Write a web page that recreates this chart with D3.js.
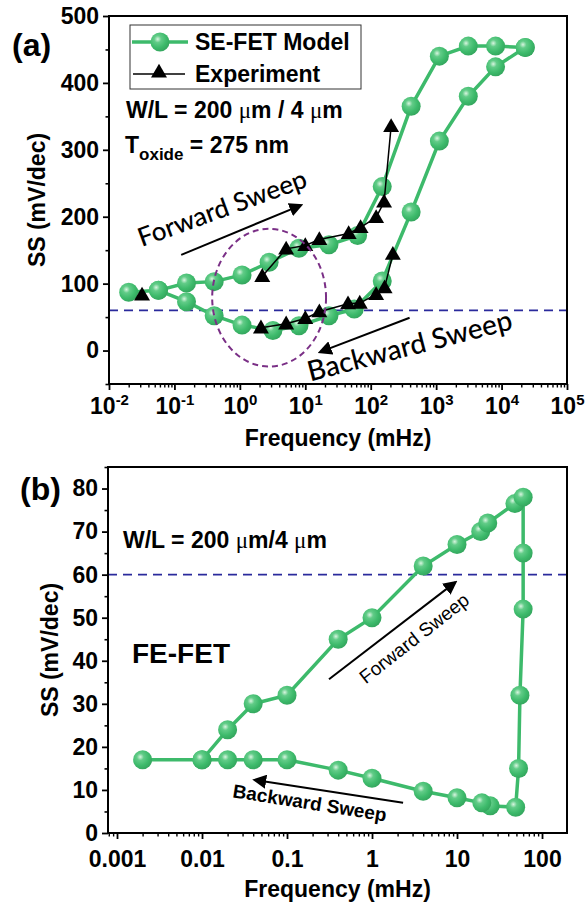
<!DOCTYPE html>
<html><head><meta charset="utf-8">
<script src="https://cdn.jsdelivr.net/npm/d3@7"></script>
<style>body{margin:0;background:#fff} text{font-family:"Liberation Sans",Arial,sans-serif}</style>
</head><body><svg id="c" width="587" height="907"></svg>
<script>
// ---------- Panel (a) data ----------
const aModelFwdF  = [0.02,0.057,0.153,0.405,1.08,2.8,8,23,63,150,415,1120,3100,8100,23000];
const aModelFwdSS = [87,90,101,103,113,132,153,158,172,245,365,440,455,455,453];
const aModelBwdF  = [23000,8100,3100,1120,415,150,56,23,8,3.2,1.08,0.405,0.153,0.057];
const aModelBwdSS = [453,424,380,313,207,104,62,52,37,30,38,52,73,90];
const aExpFwdF  = [2.2,5.1,10,16.4,46,70,121,160,205];
const aExpFwdSS = [111,152,157,166,175,184,199,222,335];
const aExpBwdF  = [218,163,121,68,45,16.4,10,5.1,2.1];
const aExpBwdSS = [144,94,84,71,70,58,48,40,34];
const aExpSingleF = [0.032];
const aExpSingleSS = [83];
const aYTicks = [0,100,200,300,400,500];
const aXTickExp = [-2,-1,0,1,2,3,4,5];
// ---------- Panel (b) data ----------
const bF  = [0.002,0.01,0.02,0.04,0.1,0.4,1,4,10,19,23,48,60,60,60,55,53,49,24.6,19.6,10,4,1,0.4,0.1,0.04,0.02,0.01];
const bSS = [17,17,24,30,32,45,50,62,67,70,72,76.5,78,65,52,32,15,6,6.3,7,8.2,9.7,12.7,14.6,17,17,17,17];
const bYTicks = [0,10,20,30,40,50,60,70,80];
const bXTicks = [0.001,0.01,0.1,1,10,100];
const bXLabels = ["0.001","0.01","0.1","1","10","100"];
const ssLimit = 60;

const GREEN = "#3dba6b", BLUE = "#2a2a9c", PURPLE = "#7a2f86";
const svg = d3.select("#c");
const defs = svg.append("defs");
const rg = defs.append("radialGradient").attr("id","ball").attr("cx","38%").attr("cy","35%").attr("r","65%");
rg.append("stop").attr("offset","0%").attr("stop-color","#d8f5e0");
rg.append("stop").attr("offset","28%").attr("stop-color","#62cc88");
rg.append("stop").attr("offset","70%").attr("stop-color",GREEN);
rg.append("stop").attr("offset","100%").attr("stop-color","#35a85f");
defs.append("marker").attr("id","arr").attr("viewBox","0 0 10 10").attr("refX",8).attr("refY",5)
  .attr("markerWidth",14).attr("markerHeight",14).attr("orient","auto-start-reverse").attr("markerUnits","userSpaceOnUse")
  .append("path").attr("d","M0,0 L10,5 L0,10 z").attr("fill","#000");

function frame(g, x, y) {
  const [x0,x1] = x.range(), [y0,y1] = y.range();
  g.append("rect").attr("x",x0).attr("y",y1).attr("width",x1-x0).attr("height",y0-y1)
    .attr("fill","none").attr("stroke","#000").attr("stroke-width",2);
}
function yAxis(g, y, x0, ticks, minorStep) {
  const [d0,d1] = y.domain();
  const minors = d3.range(Math.ceil(d0/minorStep)*minorStep, d1+0.001, minorStep).filter(v=>!ticks.includes(v));
  g.append("g").attr("transform",`translate(${x0},0)`).call(d3.axisLeft(y).tickValues(minors).tickSize(3.5).tickFormat(""))
   .call(s=>s.select(".domain").remove()).selectAll("line").attr("stroke-width",1.6);
  const ax = g.append("g").attr("transform",`translate(${x0},0)`).call(d3.axisLeft(y).tickValues(ticks).tickSize(6).tickPadding(4));
  ax.select(".domain").remove();
  ax.selectAll("line").attr("stroke-width",1.8);
  ax.selectAll("text").attr("font-size",23).attr("font-weight","bold").attr("fill","#000");
}
function xAxisLog(g, x, y0, majors, fmt) {
  const minors = x.ticks().filter(v => Math.abs(Math.log10(v)-Math.round(Math.log10(v)))>1e-6);
  g.append("g").attr("transform",`translate(0,${y0})`).call(d3.axisBottom(x).tickValues(minors).tickSize(3.5).tickFormat(""))
   .call(s=>s.select(".domain").remove()).selectAll("line").attr("stroke-width",1.4);
  const ax = g.append("g").attr("transform",`translate(0,${y0})`).call(d3.axisBottom(x).tickValues(majors).tickSize(6).tickPadding(5).tickFormat(""));
  ax.select(".domain").remove();
  ax.selectAll("line").attr("stroke-width",1.8);
  ax.selectAll(".tick").each(function(d,i){ fmt(d3.select(this), d, i); });
}
function balls(g, x, y, F, S, r) {
  g.selectAll(null).data(F.map((f,i)=>[f,S[i]])).enter().append("circle")
    .attr("cx",d=>x(d[0])).attr("cy",d=>y(d[1])).attr("r",r).attr("fill","url(#ball)");
}
function tris(g, x, y, F, S, s) {
  const sym = d3.symbol().type(d3.symbolTriangle).size(s);
  g.selectAll(null).data(F.map((f,i)=>[f,S[i]])).enter().append("path")
    .attr("d",sym).attr("transform",d=>`translate(${x(d[0])},${y(d[1])+1})`).attr("fill","#000");
}
function zip(F,S){ return F.map((f,i)=>[f,S[i]]); }

// ================= Panel (a) =================
const xa = d3.scaleLog().domain([1e-2,1e5]).range([109,567]);
const ya = d3.scaleLinear().domain([-50,500]).range([384,16]);
const ga = svg.append("g");
ga.append("line").attr("x1",xa.range()[0]).attr("x2",xa.range()[1]).attr("y1",ya(ssLimit)).attr("y2",ya(ssLimit))
  .attr("stroke",BLUE).attr("stroke-width",1.6).attr("stroke-dasharray","9,6");
const lineA = d3.line().x(d=>xa(d[0])).y(d=>ya(d[1]));
ga.append("path").attr("d",lineA(zip(aModelFwdF,aModelFwdSS))).attr("fill","none").attr("stroke",GREEN).attr("stroke-width",3.5);
ga.append("path").attr("d",lineA(zip(aModelBwdF,aModelBwdSS))).attr("fill","none").attr("stroke",GREEN).attr("stroke-width",3.5);
balls(ga, xa, ya, aModelFwdF, aModelFwdSS, 9.5);
balls(ga, xa, ya, aModelBwdF, aModelBwdSS, 9.5);
ga.append("path").attr("d",lineA(zip(aExpFwdF,aExpFwdSS))).attr("fill","none").attr("stroke","#000").attr("stroke-width",1.5);
ga.append("path").attr("d",lineA(zip(aExpBwdF,aExpBwdSS))).attr("fill","none").attr("stroke","#000").attr("stroke-width",1.5);
tris(ga, xa, ya, aExpFwdF, aExpFwdSS, 110);
tris(ga, xa, ya, aExpBwdF, aExpBwdSS, 110);
tris(ga, xa, ya, aExpSingleF, aExpSingleSS, 110);
const eC = [2.8, 79], eDec = 0.87, eH = 103;
ga.append("ellipse").attr("cx",xa(eC[0])).attr("cy",ya(eC[1]))
  .attr("rx",xa(eC[0]*Math.pow(10,eDec))-xa(eC[0])).attr("ry",ya(eC[1]-eH)-ya(eC[1]))
  .attr("fill","none").attr("stroke",PURPLE).attr("stroke-width",2).attr("stroke-dasharray","6,4");
ga.append("line").attr("x1",xa(0.127)).attr("y1",ya(143)).attr("x2",xa(8.5)).attr("y2",ya(217))
  .attr("stroke","#000").attr("stroke-width",2).attr("marker-end","url(#arr)");
ga.append("line").attr("x1",xa(393)).attr("y1",ya(49)).attr("x2",xa(17)).attr("y2",ya(-2))
  .attr("stroke","#000").attr("stroke-width",2).attr("marker-end","url(#arr)");
ga.append("text").attr("transform",`translate(${xa(0.6)},${ya(200)}) rotate(-20)`).attr("text-anchor","middle")
  .attr("font-size",26).style("font-family","Lato, 'Open Sans', sans-serif").attr("font-weight",500).text("Forward Sweep");
ga.append("text").attr("transform",`translate(${xa(430)},${ya(-7)}) rotate(-14.5)`).attr("text-anchor","middle")
  .attr("font-size",28).style("font-family","Lato, 'Open Sans', sans-serif").attr("font-weight",500).text("Backward Sweep");
frame(ga, xa, ya);
yAxis(ga, ya, 109, aYTicks, 50);
xAxisLog(ga, xa, 384, aXTickExp.map(e=>Math.pow(10,e)), (t,d,i)=>{
  const tx = t.append("text").attr("y",30).attr("fill","#000").attr("text-anchor","middle")
    .attr("font-size",23).attr("font-weight","bold");
  tx.append("tspan").text("10");
  tx.append("tspan").attr("dy",-9).attr("font-size",15).text(String(aXTickExp[i]));
});
ga.append("text").attr("x",(109+567)/2).attr("y",446).attr("text-anchor","middle").attr("font-size",23).attr("font-weight","bold").text("Frequency (mHz)");
ga.append("text").attr("transform",`translate(45,200) rotate(-90)`).attr("text-anchor","middle").attr("font-size",23).attr("font-weight","bold").text("SS (mV/dec)");
ga.append("text").attr("x",12).attr("y",56).attr("font-size",32).attr("font-weight","bold").text("(a)");
const lg = ga.append("g");
lg.append("rect").attr("x",130).attr("y",25).attr("width",231).attr("height",64).attr("fill","#fff").attr("stroke","#333").attr("stroke-width",1);
lg.append("line").attr("x1",132).attr("x2",188).attr("y1",42).attr("y2",42).attr("stroke",GREEN).attr("stroke-width",3.5);
lg.append("circle").attr("cx",160).attr("cy",42).attr("r",9.5).attr("fill","url(#ball)");
lg.append("line").attr("x1",133).attr("x2",185).attr("y1",74).attr("y2",74).attr("stroke","#000").attr("stroke-width",1.5);
lg.append("path").attr("d",d3.symbol().type(d3.symbolTriangle).size(110)).attr("transform","translate(159,73)");
lg.append("text").attr("x",195).attr("y",50).attr("font-size",23).attr("font-weight","bold").text("SE-FET Model");
lg.append("text").attr("x",195).attr("y",82).attr("font-size",23).attr("font-weight","bold").text("Experiment");
const wl = ga.append("text").attr("x",126).attr("y",118).attr("font-size",23).attr("font-weight","bold");
wl.append("tspan").text("W/L = 200 ");
wl.append("tspan").style("font-family","'Liberation Serif',serif").attr("font-weight","normal").text("μ");
wl.append("tspan").text("m / 4 ");
wl.append("tspan").style("font-family","'Liberation Serif',serif").attr("font-weight","normal").text("μ");
wl.append("tspan").text("m");
const tox = ga.append("text").attr("x",125).attr("y",153).attr("font-size",23).attr("font-weight","bold");
tox.append("tspan").text("T");
tox.append("tspan").attr("dy",7).attr("font-size",17).text("oxide");
tox.append("tspan").attr("dy",-7).text(" = 275 nm");

// ================= Panel (b) =================
const xb = d3.scaleLog().domain([Math.pow(10,-3.106),Math.pow(10,2.294)]).range([108,567]);
const yb = d3.scaleLinear().domain([0,85]).range([833,467]);
const gb = svg.append("g");
gb.append("line").attr("x1",xb.range()[0]).attr("x2",xb.range()[1]).attr("y1",yb(ssLimit)).attr("y2",yb(ssLimit))
  .attr("stroke",BLUE).attr("stroke-width",1.6).attr("stroke-dasharray","9,6");
const lineB = d3.line().x(d=>xb(d[0])).y(d=>yb(d[1]));
gb.append("path").attr("d",lineB(zip(bF,bSS))).attr("fill","none").attr("stroke",GREEN).attr("stroke-width",3.5);
balls(gb, xb, yb, bF, bSS, 9.5);
gb.append("line").attr("x1",xb(0.312)).attr("y1",yb(35.7)).attr("x2",xb(9.5)).attr("y2",yb(58.2))
  .attr("stroke","#000").attr("stroke-width",2).attr("marker-end","url(#arr)");
gb.append("line").attr("x1",xb(2.32)).attr("y1",yb(7)).attr("x2",xb(0.042)).attr("y2",yb(12.3))
  .attr("stroke","#000").attr("stroke-width",2).attr("marker-end","url(#arr)");
gb.append("text").attr("transform",`translate(${xb(3.5)},${yb(44)}) rotate(-38)`).attr("text-anchor","middle")
  .attr("font-size",19).text("Forward Sweep");
gb.append("text").attr("transform",`translate(${xb(0.18)},${yb(5.5)}) rotate(9)`).attr("text-anchor","middle")
  .attr("font-size",19).style("font-weight",600).text("Backward Sweep");
frame(gb, xb, yb);
yAxis(gb, yb, 108, bYTicks, 5);
xAxisLog(gb, xb, 833, bXTicks, (t,d,i)=>{
  t.append("text").attr("y",34).attr("fill","#000").attr("text-anchor","middle")
   .attr("font-size",23).attr("font-weight","bold").text(bXLabels[i]);
});
gb.append("text").attr("x",(108+567)/2).attr("y",897).attr("text-anchor","middle").attr("font-size",23).attr("font-weight","bold").text("Frequency (mHz)");
gb.append("text").attr("transform",`translate(58,650) rotate(-90)`).attr("text-anchor","middle").attr("font-size",23).attr("font-weight","bold").text("SS (mV/dec)");
gb.append("text").attr("x",20).attr("y",500).attr("font-size",32).attr("font-weight","bold").text("(b)");
const wl2 = gb.append("text").attr("x",123).attr("y",548).attr("font-size",23).attr("font-weight","bold");
wl2.append("tspan").text("W/L = 200 ");
wl2.append("tspan").style("font-family","'Liberation Serif',serif").attr("font-weight","normal").text("μ");
wl2.append("tspan").text("m/4 ");
wl2.append("tspan").style("font-family","'Liberation Serif',serif").attr("font-weight","normal").text("μ");
wl2.append("tspan").text("m");
gb.append("text").attr("x",132).attr("y",663).attr("font-size",28).attr("font-weight","bold").text("FE-FET");
</script></body></html>
